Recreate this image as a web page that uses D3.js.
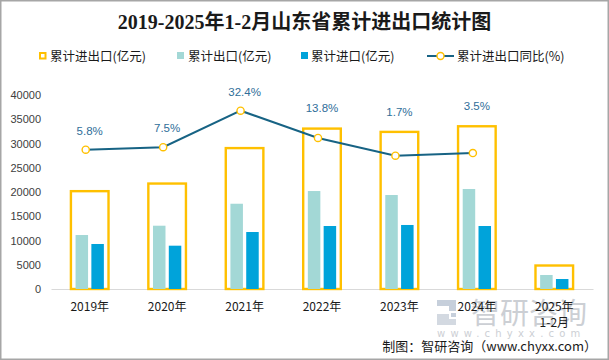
<!DOCTYPE html>
<html><head><meta charset="utf-8">
<script src="https://cdn.jsdelivr.net/npm/d3@7/dist/d3.min.js"></script>
<style>body{margin:0;background:#fff;}svg{display:block;}</style>
</head><body>
<svg id="c" width="609" height="360"></svg>
<script>
const categories = ["2019年","2020年","2021年","2022年","2023年","2024年","2025年\n1-2月"];
const totalValues = [20420, 21990, 29300, 33320, 32640, 33800, 5090];
const exportValues = [11130, 13050, 17580, 20200, 19380, 20620, 2890];
const importValues = [9280, 8930, 11750, 12990, 13200, 12990, 2060];
const growthValues = [5.8, 7.5, 32.4, 13.8, 1.7, 3.5];
const yTicks = [0,5000,10000,15000,20000,25000,30000,35000,40000];
const legendLabels = ["累计进出口(亿元)","累计出口(亿元)","累计进口(亿元)","累计进出口同比(%)"];

const svg = d3.select("#c");
const W = 609, H = 360;
const cjk = "'Noto Sans CJK SC','Noto Sans',sans-serif";
const C = {total:"#FFC000", exp:"#A3D8D6", imp:"#00A3DA", line:"#176384", label:"#2F6E99"};

svg.append("rect").attr("x",0.75).attr("y",0.75).attr("width",W-1.5).attr("height",H-1.5)
  .attr("fill","#fff").attr("stroke","#a6a6a6").attr("stroke-width",1.5);

// watermark
const wm = svg.append("g").attr("opacity",0.5);
wm.append("path").attr("d","M437,300 H456 V311 H449 V306 H437 Z").attr("fill","#8fa0b8");
wm.append("path").attr("d","M437,314 H449 V319 H456 V325 H437 Z").attr("fill","#a9b4c4");
wm.append("path").attr("d","M451,313 H456 V317 H451 Z").attr("fill","#8fa0b8");
wm.append("text").attr("x",471).attr("y",324).attr("font-family",cjk).attr("font-size",29)
  .attr("fill","#9aa1ab").text("智研咨询");
wm.append("text").attr("x",437).attr("y",337).attr("font-family","'DejaVu Sans',sans-serif").attr("font-size",10)
  .attr("letter-spacing",5.2).attr("fill","#9aa1ab").text("www.chyxx.com");

// title
svg.append("text").attr("x",W/2).attr("y",29).attr("text-anchor","middle")
  .attr("font-family","'Liberation Serif','Noto Sans CJK SC',serif").attr("font-weight","bold")
  .attr("font-size",20).attr("fill","#1a1a1a").text("2019-2025年1-2月山东省累计进出口统计图");

const x = d3.scaleBand().domain(categories).range([51,593]);
const y = d3.scaleLinear().domain([0,40000]).range([289,95]);
const y2 = d3.scaleLinear().domain([-89.2,43.1]).range([289,95]);
const cx = d => x(d) + x.bandwidth()/2;

// y axis labels
const yAxis = svg.append("g").attr("transform","translate(41,0)")
  .call(d3.axisLeft(y).tickValues(yTicks).tickSize(0).tickPadding(0).tickFormat(d3.format("d")));
yAxis.select(".domain").remove();
yAxis.selectAll("text").attr("font-family","'Liberation Sans','DejaVu Sans',sans-serif").attr("font-size",11).attr("fill","#404040");

// x axis
const xAxis = svg.append("g").attr("transform","translate(0,289)")
  .call(d3.axisBottom(x).tickSize(0).tickPadding(0));
xAxis.select(".domain").attr("stroke","#d9d9d9").attr("stroke-width",1.2);
xAxis.selectAll("text").each(function(d){
  const t = d3.select(this); t.text(null);
  d.split("\n").forEach((s,i)=>t.append("tspan").attr("x",0).attr("y",22+i*16).text(s));
}).attr("font-family",cjk).attr("font-size",12).attr("fill","#1a1a1a").attr("dy",null);

// bars
const sw = 2.4;
const bw = 40, ib = 12.5, gap = 3.3;
svg.append("g").selectAll("rect").data(categories).join("rect")
  .attr("x",(d)=>cx(d)-bw/2+sw/2).attr("width",bw-sw)
  .attr("y",(d,i)=>y(totalValues[i])+sw/2).attr("height",(d,i)=>y(0)-y(totalValues[i])-sw/2)
  .attr("fill","none").attr("stroke",C.total).attr("stroke-width",sw);
svg.append("g").selectAll("rect").data(categories).join("rect")
  .attr("x",(d)=>cx(d)-gap/2-ib).attr("width",ib)
  .attr("y",(d,i)=>y(exportValues[i])).attr("height",(d,i)=>y(0)-y(exportValues[i]))
  .attr("fill",C.exp);
svg.append("g").selectAll("rect").data(categories).join("rect")
  .attr("x",(d)=>cx(d)+gap/2).attr("width",ib)
  .attr("y",(d,i)=>y(importValues[i])).attr("height",(d,i)=>y(0)-y(importValues[i]))
  .attr("fill",C.imp);

// line
const lc = categories.slice(0,growthValues.length);
const px = d => cx(d) - 4;
svg.append("path").datum(growthValues)
  .attr("d", d3.line().x((v,i)=>px(lc[i])).y(v=>y2(v)))
  .attr("fill","none").attr("stroke",C.line).attr("stroke-width",2);
svg.append("g").selectAll("circle").data(growthValues).join("circle")
  .attr("cx",(v,i)=>px(lc[i])).attr("cy",v=>y2(v)).attr("r",3.6)
  .attr("fill","#fff").attr("stroke",C.total).attr("stroke-width",1.4);
svg.append("g").selectAll("text").data(growthValues).join("text")
  .attr("x",(v,i)=>cx(lc[i])).attr("y",(v,i)=>Math.min(y2(v), y(totalValues[i]))-15)
  .attr("text-anchor","middle").attr("font-family","'Liberation Sans','DejaVu Sans',sans-serif")
  .attr("font-size",11.5).attr("fill",C.label).text(v=>v.toFixed(1)+"%");

// legend
const lg = svg.append("g").attr("font-family",cjk).attr("font-size",12.5).attr("fill","#1a1a1a");
const lx = [39, 177, 301, 427];
lg.append("rect").attr("x",lx[0]+1).attr("y",53).attr("width",5.5).attr("height",5.5)
  .attr("fill","none").attr("stroke",C.total).attr("stroke-width",2);
lg.append("rect").attr("x",lx[1]).attr("y",52).attr("width",7).attr("height",7).attr("fill",C.exp);
lg.append("rect").attr("x",lx[2]).attr("y",52).attr("width",7).attr("height",7).attr("fill",C.imp);
lg.append("line").attr("x1",lx[3]).attr("x2",lx[3]+27).attr("y1",56).attr("y2",56).attr("stroke",C.line).attr("stroke-width",2);
lg.append("circle").attr("cx",lx[3]+13.5).attr("cy",56).attr("r",3.5).attr("fill","#fff").attr("stroke",C.total).attr("stroke-width",1.4);
const tx = [50, 188, 311, 457];
legendLabels.forEach((s,i)=>lg.append("text").attr("x",tx[i]).attr("y",61).text(s));

// source
svg.append("text").attr("x",597).attr("y",351).attr("text-anchor","end")
  .attr("font-family",cjk).attr("font-size",13).attr("fill","#1a1a1a").text("制图：智研咨询（www.chyxx.com）");
</script>
</body></html>
